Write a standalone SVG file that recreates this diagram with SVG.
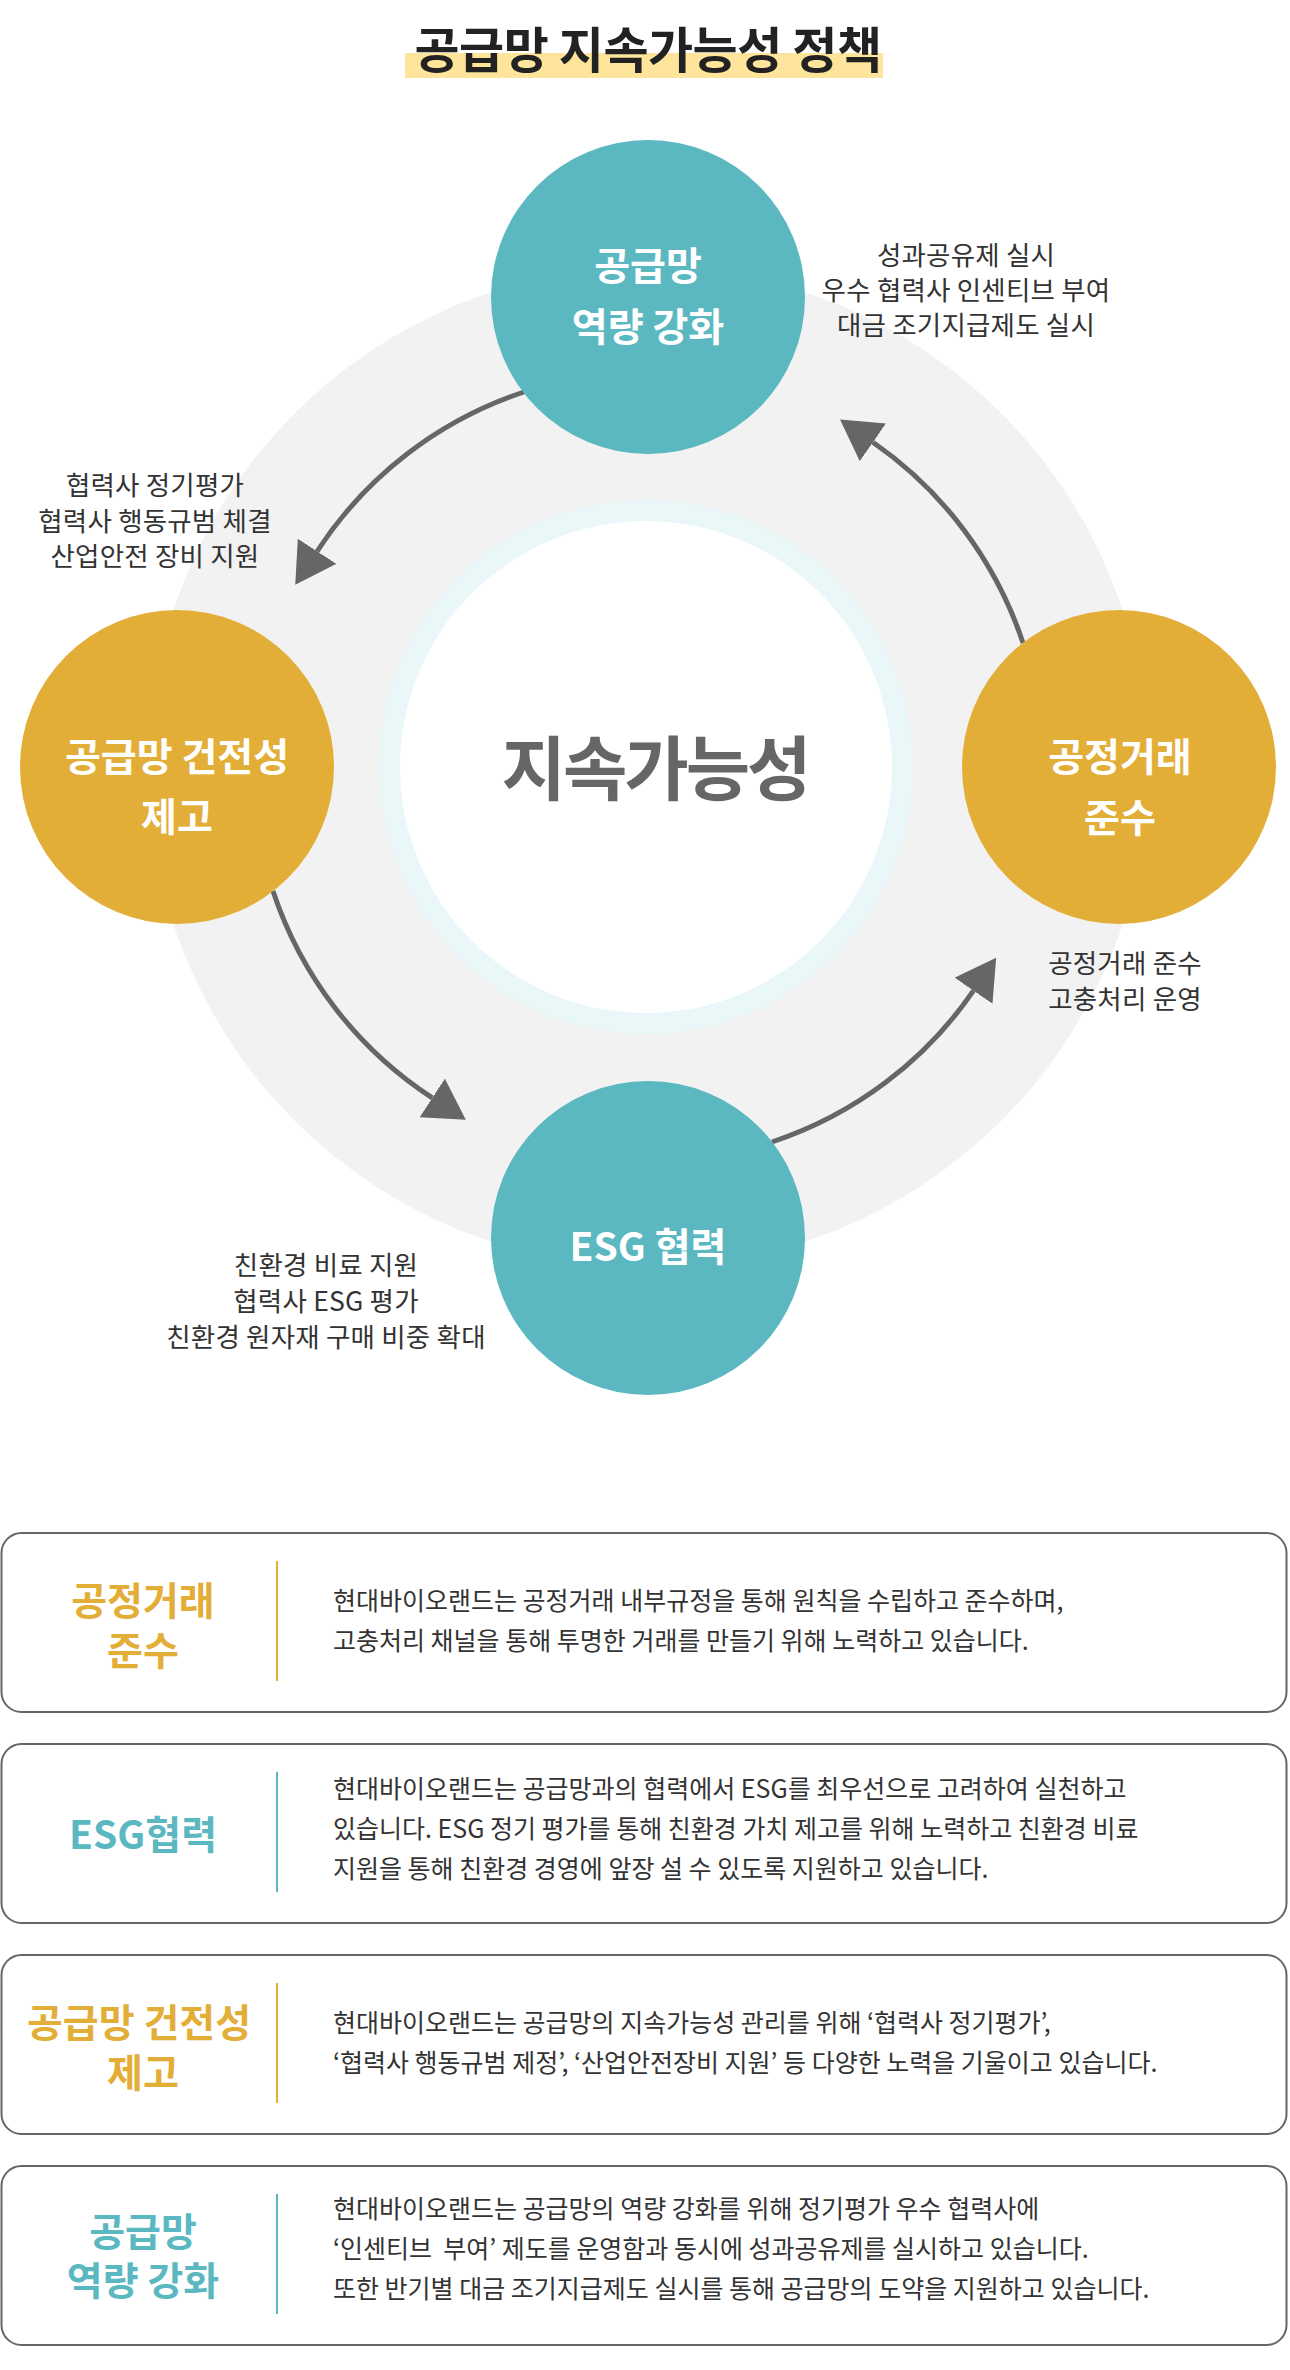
<svg xmlns="http://www.w3.org/2000/svg" width="1290" height="2370" viewBox="0 0 1290 2370">
<style>
text{font-family:"Noto Sans CJK KR","Noto Sans",sans-serif;}
.title{font-size:49px;font-weight:700;fill:#222;letter-spacing:-0.5px;text-anchor:middle;}
.center{font-size:70px;font-weight:700;fill:#666;letter-spacing:-3px;text-anchor:middle;}
.cl{font-size:39px;font-weight:700;fill:#fff;text-anchor:middle;}
.side{font-size:26.5px;font-weight:400;fill:#333;letter-spacing:0.2px;text-anchor:middle;}
.lab{font-size:39px;font-weight:700;text-anchor:middle;}
.body{font-size:25px;font-weight:400;fill:#333;}
.teal{fill:#5bb8c1;}
.gold{fill:#e3ae37;}
.box{fill:#fff;stroke:#666;stroke-width:2;}
.divg{stroke:#e3ae37;stroke-width:2;}
.divt{stroke:#5bb8c1;stroke-width:2;}
.arrow{fill:none;stroke:#666;stroke-width:5;marker-end:url(#head);}
</style>
<defs>
<marker id="head" markerUnits="userSpaceOnUse" viewBox="0 0 40 46" refX="0" refY="23" markerWidth="40" markerHeight="46" orient="auto">
<path d="M0,0 L40,23 L0,46 Z" fill="#666"/>
</marker>
</defs>
<rect width="1290" height="2370" fill="#fff"/>

<g id="title">
<rect x="405" y="53" width="478" height="25" fill="#fee59b"/>
<text class="title" x="648" y="68">공급망 지속가능성 정책</text>
</g>

<g id="background">
<circle cx="648" cy="767" r="500" fill="#f2f2f2"/>
<circle cx="646" cy="767" r="267" fill="#eaf7f9"/>
<circle cx="646" cy="767" r="246" fill="#fff"/>
</g>

<g id="center">
<text class="center" x="655" y="795">지속가능성</text>
</g>

<g id="connectors">
<path class="arrow" d="M524,392 A395,395 0 0 0 317.1,551.3"/>
<path class="arrow" d="M273,891 A395,395 0 0 0 432.3,1097.9"/>
<path class="arrow" d="M772,1142 A395,395 0 0 0 973.5,990.7"/>
<path class="arrow" d="M1023,643 A395,395 0 0 0 872.9,442.3"/>
</g>

<g id="node-capacity">
<circle class="teal" cx="648" cy="297" r="157"/>
<text class="cl" x="648" y="280">공급망</text>
<text class="cl" x="648" y="341">역량 강화</text>
</g>
<g id="node-soundness">
<circle class="gold" cx="177" cy="767" r="157"/>
<text class="cl" x="177" y="771">공급망 건전성</text>
<text class="cl" x="177" y="831">제고</text>
</g>
<g id="node-fairtrade">
<circle class="gold" cx="1119" cy="767" r="157"/>
<text class="cl" x="1120" y="771">공정거래</text>
<text class="cl" x="1120" y="832">준수</text>
</g>
<g id="node-esg">
<circle class="teal" cx="648" cy="1238" r="157"/>
<text class="cl" x="648" y="1261">ESG 협력</text>
</g>

<g id="note-capacity">
<text class="side" x="966" y="265">성과공유제 실시</text>
<text class="side" x="966" y="300">우수 협력사 인센티브 부여</text>
<text class="side" x="966" y="335">대금 조기지급제도 실시</text>
</g>
<g id="note-soundness">
<text class="side" x="155" y="495">협력사 정기평가</text>
<text class="side" x="155" y="531">협력사 행동규범 체결</text>
<text class="side" x="155" y="566">산업안전 장비 지원</text>
</g>
<g id="note-fairtrade">
<text class="side" x="1125" y="973">공정거래 준수</text>
<text class="side" x="1125" y="1009">고충처리 운영</text>
</g>
<g id="note-esg">
<text class="side" x="326" y="1275">친환경 비료 지원</text>
<text class="side" x="326" y="1311">협력사 ESG 평가</text>
<text class="side" x="326" y="1347">친환경 원자재 구매 비중 확대</text>
</g>

<g id="box-fairtrade">
<rect class="box" x="1.5" y="1533" width="1285" height="179" rx="20"/>
<line class="divg" x1="277" y1="1561" x2="277" y2="1681"/>
<text class="lab gold" x="143" y="1615">공정거래</text>
<text class="lab gold" x="143" y="1665">준수</text>
<text class="body" x="333" y="1610">현대바이오랜드는 공정거래 내부규정을 통해 원칙을 수립하고 준수하며,</text>
<text class="body" x="333" y="1650">고충처리 채널을 통해 투명한 거래를 만들기 위해 노력하고 있습니다.</text>
</g>

<g id="box-esg">
<rect class="box" x="1.5" y="1744" width="1285" height="179" rx="20"/>
<line class="divt" x1="277" y1="1772" x2="277" y2="1892"/>
<text class="lab teal" x="143" y="1849">ESG협력</text>
<text class="body" x="333" y="1798">현대바이오랜드는 공급망과의 협력에서 ESG를 최우선으로 고려하여 실천하고</text>
<text class="body" x="333" y="1838">있습니다. ESG 정기 평가를 통해 친환경 가치 제고를 위해 노력하고 친환경 비료</text>
<text class="body" x="333" y="1878">지원을 통해 친환경 경영에 앞장 설 수 있도록 지원하고 있습니다.</text>
</g>

<g id="box-soundness">
<rect class="box" x="1.5" y="1955" width="1285" height="179" rx="20"/>
<line class="divg" x1="277" y1="1983" x2="277" y2="2103"/>
<text class="lab gold" x="139" y="2037">공급망 건전성</text>
<text class="lab gold" x="143" y="2087">제고</text>
<text class="body" x="333" y="2032">현대바이오랜드는 공급망의 지속가능성 관리를 위해 ‘협력사 정기평가’,</text>
<text class="body" x="333" y="2072">‘협력사 행동규범 제정’, ‘산업안전장비 지원’ 등 다양한 노력을 기울이고 있습니다.</text>
</g>

<g id="box-capacity">
<rect class="box" x="1.5" y="2166" width="1285" height="179" rx="20"/>
<line class="divt" x1="277" y1="2194" x2="277" y2="2314"/>
<text class="lab teal" x="143" y="2246">공급망</text>
<text class="lab teal" x="143" y="2295">역량 강화</text>
<text class="body" x="333" y="2218">현대바이오랜드는 공급망의 역량 강화를 위해 정기평가 우수 협력사에</text>
<text class="body" x="333" y="2258" xml:space="preserve">‘인센티브  부여’ 제도를 운영함과 동시에 성과공유제를 실시하고 있습니다.</text>
<text class="body" x="333" y="2298">또한 반기별 대금 조기지급제도 실시를 통해 공급망의 도약을 지원하고 있습니다.</text>
</g>
</svg>
